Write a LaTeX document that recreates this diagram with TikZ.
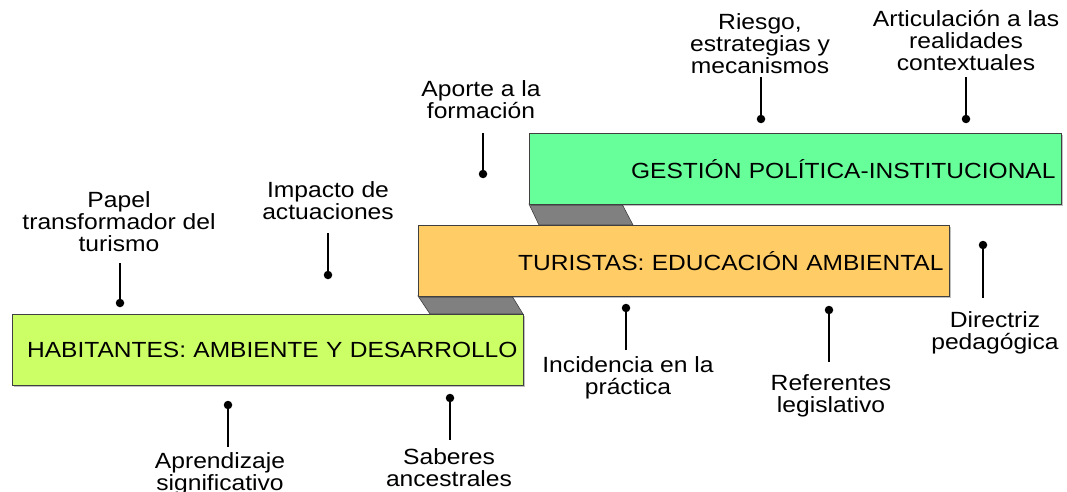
\documentclass[tikz,border=0pt]{standalone}
\usepackage{fontspec}
\setmainfont[FakeStretch=1.12]{Liberation Sans}
\usetikzlibrary{shadows,calc}
\definecolor{habc}{HTML}{CCFF66}
\definecolor{turc}{HTML}{FFCC66}
\definecolor{gesc}{HTML}{66FF99}
\definecolor{linkc}{HTML}{808080}
\definecolor{edgec}{HTML}{404040}
\begin{document}
\begin{tikzpicture}[x=1pt,y=-1pt,
  box/.style={draw=edgec, line width=0.9pt, minimum width=#1, minimum height=71pt,
    inner xsep=6pt, text width=#1-12pt, align=right, anchor=north west,
    font=\fontsize{21.9}{22}\selectfont,
    drop shadow={shadow xshift=2pt, shadow yshift=-2pt, opacity=0.25, fill=black}},
  link/.style={fill=linkc, draw=edgec, line width=0.6pt},
  dot/.style={circle, fill=black, inner sep=0pt, minimum size=8.5pt},
  pinline/.style={line width=1.2pt},
  lbl/.style={align=center, inner sep=0pt, font=\fontsize{22}{22}\selectfont}]
\useasboundingbox (0,0) rectangle (1067,492);

% connecting bands
\draw[link] (529,204) -- (622,204) -- (633,225) -- (539,225) -- cycle;
\draw[link] (418,296) -- (512,296) -- (523,314) -- (430,314) -- cycle;

% boxes
\node[box=511pt, fill=habc] (hab) at (12,314) {HABITANTES: AMBIENTE Y DESARROLLO};
\node[box=531pt, fill=turc] (tur) at (418,225) {TURISTAS: EDUCACIÓN AMBIENTAL};
\node[box=532pt, fill=gesc] (ges) at (529,133) {GESTIÓN POLÍTICA-INSTITUCIONAL};

% pins
\node[dot] (d1) at (120,303) {}; \coordinate (c1) at (120,263);
\node[dot] (d2) at (328,275) {}; \coordinate (c2) at (328,233);
\node[dot] (d3) at (483,174) {}; \coordinate (c3) at (483,133);
\node[dot] (d4) at (761,119) {}; \coordinate (c4) at (761,77);
\node[dot] (d5) at (966,119) {}; \coordinate (c5) at (966,77);
\node[dot] (d6) at (983,245) {}; \coordinate (c6) at (983,298);
\node[dot] (d7) at (829,310) {}; \coordinate (c7) at (829,362);
\node[dot] (d8) at (626,308) {}; \coordinate (c8) at (626,350);
\node[dot] (d9) at (450,398) {}; \coordinate (c9) at (450,440);
\node[dot] (d10) at (228,405) {}; \coordinate (c10) at (228,447);
\foreach \i in {1,...,10} { \draw[pinline] (d\i.center) -- (c\i); }

% labels
\node[lbl] (l1) at (119,222) {Papel\\transformador del\\turismo};
\node[lbl] (l2) at (328,201) {Impacto de\\actuaciones};
\node[lbl] (l3) at (481,100) {Aporte a la\\formación};
\node[lbl] (l4) at (760,44) {Riesgo,\\estrategias y\\mecanismos};
\node[lbl] (l5) at (966,41) {Articulación a las\\realidades\\contextuales};
\node[lbl] (l6) at (995,333) {Directriz\\pedagógica};
\node[lbl] (l7) at (831,396) {Referentes\\legislativo};
\node[lbl] (l8) at (628,378) {Incidencia en la\\práctica};
\node[lbl] (l9) at (449,468) {Saberes\\ancestrales};
\node[lbl] (l10) at (220,474) {Aprendizaje\\significativo};
\end{tikzpicture}
\end{document}
